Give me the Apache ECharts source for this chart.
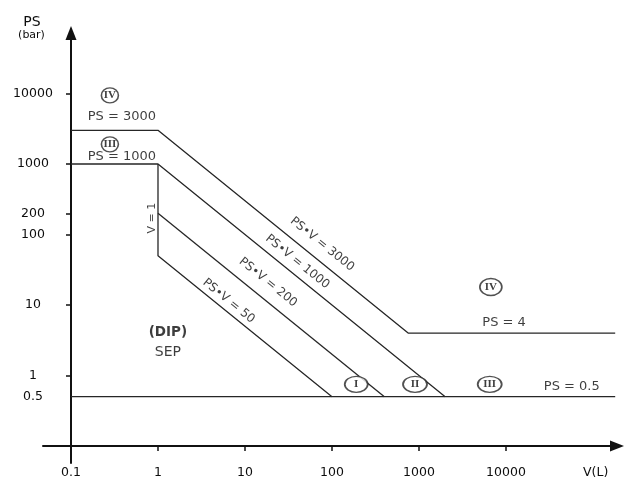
<!DOCTYPE html>
<html><head><meta charset="utf-8">
<script src="https://cdn.jsdelivr.net/npm/echarts@6/dist/echarts.min.js"></script>
<style>html,body{margin:0;padding:0;background:#fff}#c{width:625px;height:480px}</style>
</head><body><div id="c"></div>
<script>
// ---- data ----
const yTickLabels = [0.5, 1, 10, 100, 200, 1000, 10000];
const yTickMarks = [1, 10, 100, 200, 1000, 10000];
const xTickLabels = [0.1, 1, 10, 100, 1000, 10000];
const xTickMarks = [1, 10, 100, 1000, 10000];

// boundary lines, [V, PS]
const lineCat4 = [[0.1, 3000], [1, 3000], [750, 4], [180000, 4]];   // PS=3000, PS·V=3000, PS=4
const lineCat3 = [[0.1, 1000], [1, 1000], [2000, 0.5]];             // PS=1000, PS·V=1000
const lineCat1 = [[1, 1000], [1, 50], [100, 0.5]];                  // V=1, PS·V=50
const lineCat2 = [[1, 200], [400, 0.5]];                            // PS·V=200
const lineMin  = [[0.1, 0.5], [180000, 0.5]];                       // PS=0.5

// category markers (roman numerals)
const zoneNames = ['IV', 'III', 'I', 'II', 'III', 'IV'];
const zoneV  = [0.28, 0.28, 190, 900, 6500, 6700];
const zonePS = [9400, 1900, 0.75, 0.75, 0.75, 18];

// text annotations
const noteTexts = ['PS = 3000', 'PS = 1000', 'PS = 4', 'PS = 0.5', '(DIP)', 'SEP', 'V = 1',
                   'PS\u2022V = 3000', 'PS\u2022V = 1000', 'PS\u2022V = 200', 'PS\u2022V = 50'];
const noteV  = [0.385, 0.385, 9500, 57000, 1.3, 1.3, 0.85, 77, 40, 18.4, 6.5];
const notePS = [4650, 1256, 5.7, 0.69, 4.1, 2.1, 171, 73, 41, 21, 11.4];

// ---- styles / layout ----
const FONT = 'DejaVu Sans';
const LINE = '#262626';
const TXT = '#0d0d0d';
const noteStyle = [
  {fontSize: 13}, {fontSize: 13}, {fontSize: 13}, {fontSize: 13},
  {fontSize: 13.5, fontWeight: 'bold'}, {fontSize: 14}, {fontSize: 11, rotate: 90},
  {fontSize: 12, rotate: -39}, {fontSize: 12, rotate: -39}, {fontSize: 12, rotate: -39}, {fontSize: 12, rotate: -39}
];
const zoneSize = [[17, 15], [17, 15], [23, 16], [24, 16], [24, 16], [22, 17]];

const xMin = Math.pow(10, -1.3218), xMax = Math.pow(10, 5.276);
const yMin = Math.pow(10, -1.2411), yMax = Math.pow(10, 4.858);

function lineSeries(d) {
  return {type: 'line', data: d, symbol: 'none', showSymbol: false, silent: true,
          lineStyle: {color: LINE, width: 1.3}, z: 3};
}

const chart = echarts.init(document.getElementById('c'));
chart.setOption({
  animation: false,
  backgroundColor: '#fff',
  grid: {left: 43, right: 8, top: 33, bottom: 17},
  xAxis: {
    type: 'log', logBase: 10, min: xMin, max: xMax, offset: -17,
    axisLine: {lineStyle: {color: '#111', width: 2}, symbol: ['none', 'triangle'], symbolSize: [11, 14]},
    axisTick: {customValues: xTickMarks, length: 5, lineStyle: {color: '#111', width: 1.5}},
    axisLabel: {customValues: xTickLabels, margin: 20, fontSize: 12.5, fontFamily: FONT, color: TXT,
                formatter: v => String(v)},
    splitLine: {show: false}, minorTick: {show: false}
  },
  yAxis: {
    type: 'log', logBase: 10, min: yMin, max: yMax, offset: -28,
    axisLine: {lineStyle: {color: '#111', width: 2}, symbol: ['none', 'triangle'], symbolSize: [11, 14]},
    axisTick: {customValues: yTickMarks, length: 5, lineStyle: {color: '#111', width: 1.5}},
    axisLabel: {customValues: yTickLabels, margin: 38, align: 'center', fontSize: 12.5, fontFamily: FONT, color: TXT,
                formatter: v => String(v)},
    splitLine: {show: false}, minorTick: {show: false}
  },
  graphic: [
    {type: 'text', x: 32, y: 22, style: {text: 'PS', font: '14px "DejaVu Sans"', fill: TXT, align: 'center', verticalAlign: 'middle'}},
    {type: 'text', x: 31.5, y: 35, style: {text: '(bar)', font: '11px "DejaVu Sans"', fill: TXT, align: 'center', verticalAlign: 'middle'}},
    {type: 'text', x: 583, y: 473, style: {text: 'V(L)', font: '12.5px "DejaVu Sans"', fill: TXT, align: 'left', verticalAlign: 'middle'}}
  ],
  series: [
    lineSeries(lineCat4), lineSeries(lineCat3), lineSeries(lineCat1), lineSeries(lineCat2), lineSeries(lineMin),
    {
      type: 'scatter', silent: true, z: 5,
      symbol: 'path://M0,10a10,10 0 1,0 20,0a10,10 0 1,0 -20,0',
      itemStyle: {color: '#fff', borderColor: LINE, borderWidth: 1.5},
      data: zoneNames.map((n, i) => ({name: n, value: [zoneV[i], zonePS[i]], symbolSize: zoneSize[i]})),
      label: {show: true, position: 'inside', formatter: '{b}', fontFamily: 'Liberation Serif',
              fontSize: 11, fontWeight: 'bold', color: TXT}
    },
    {
      type: 'scatter', silent: true, z: 6, symbolSize: 0,
      data: noteTexts.map((t, i) => ({name: t, value: [noteV[i], notePS[i]],
        label: Object.assign({}, noteStyle[i])})),
      label: {show: true, position: 'inside', formatter: '{b}', fontFamily: FONT, color: TXT}
    }
  ]
});
</script></body></html>
